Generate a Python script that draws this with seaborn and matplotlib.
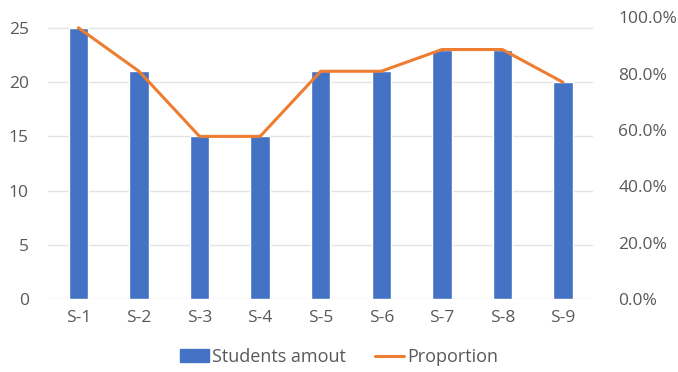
import matplotlib
matplotlib.use("Agg")
import matplotlib.pyplot as plt
import seaborn as sns
from matplotlib.ticker import PercentFormatter
from matplotlib.patches import Patch
from matplotlib.lines import Line2D

# data
subjects = ['S-1', 'S-2', 'S-3', 'S-4', 'S-5', 'S-6', 'S-7', 'S-8', 'S-9']
students = [25, 21, 15, 15, 21, 21, 23, 23, 20]
proportion = [0.962, 0.808, 0.577, 0.577, 0.808, 0.808, 0.885, 0.885, 0.769]

bar_col = '#4472C4'
line_col = '#ED7D31'
txt_col = '#595959'

sns.set_style('white')
plt.rcParams['font.family'] = ['Open Sans', 'DejaVu Sans']

fig = plt.figure(figsize=(6.78, 3.72), dpi=100)
ax = fig.add_axes([0.071, 0.196, 0.804, 0.758])

sns.barplot(x=subjects, y=students, color=bar_col, width=0.32, saturation=1, ax=ax)
ax.set_ylim(0, 26)
ax.set_yticks([0, 5, 10, 15, 20, 25])
ax.set_xlim(-0.5, 8.5)
ax.yaxis.grid(True, color='#E3E3E3', linewidth=1)
ax.set_axisbelow(True)

ax2 = ax.twinx()
sns.lineplot(x=list(range(len(subjects))), y=proportion, color=line_col, linewidth=2.2, ax=ax2)
ax2.set_ylim(0, 1)
ax2.set_yticks([0, 0.2, 0.4, 0.6, 0.8, 1.0])
ax2.yaxis.set_major_formatter(PercentFormatter(1.0, decimals=1))

for a in (ax, ax2):
    for s in a.spines.values():
        s.set_visible(False)
    a.tick_params(length=0, labelsize=12.5, colors=txt_col)
    a.set_xlabel('')
    a.set_ylabel('')
ax.tick_params(axis='y', pad=14)
ax.tick_params(axis='x', pad=8)
ax2.tick_params(axis='y', pad=18)

handles = [Patch(color=bar_col), Line2D([0], [0], color=line_col, lw=2.2)]
fig.legend(handles, ['Students amout', 'Proportion'], loc='center', bbox_to_anchor=(0.5, 0.04),
           ncol=2, frameon=False, fontsize=13, labelcolor=txt_col,
           handlelength=1.6, handletextpad=0.2, columnspacing=1.6)

fig.savefig('out.png', dpi=100)
